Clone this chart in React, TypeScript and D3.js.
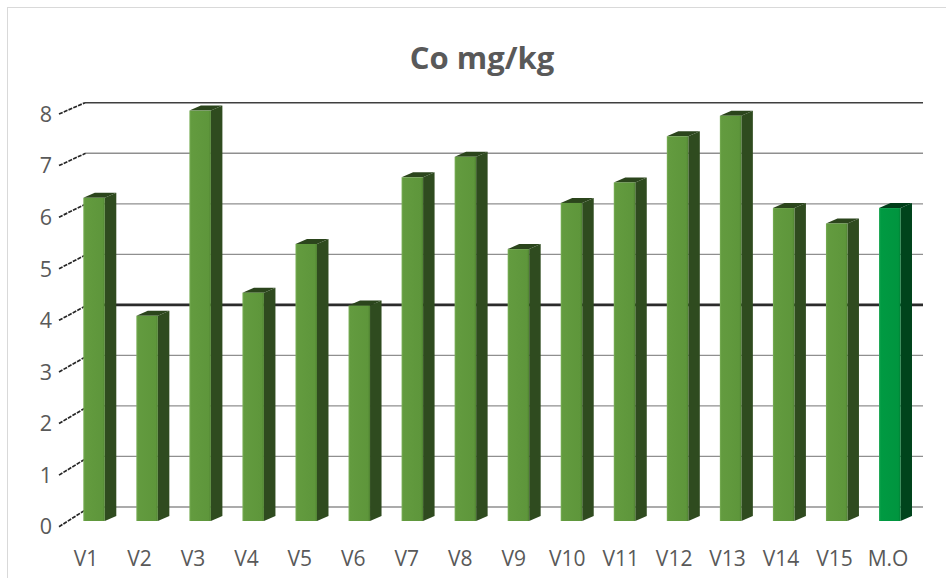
import React from 'react';
import * as d3 from 'd3';

const categories = ['V1','V2','V3','V4','V5','V6','V7','V8','V9','V10','V11','V12','V13','V14','V15','M.O'];
const values = [6.3, 4.0, 8.0, 4.45, 5.4, 4.2, 6.7, 7.1, 5.3, 6.2, 6.6, 7.5, 7.9, 6.1, 5.8, 6.1];
const yTicks = [0, 1, 2, 3, 4, 5, 6, 7, 8];
const title = 'Co mg/kg';
const highlightCategory = 'M.O';
const emphasizedTick = 4;

const W = 946;
const H = 578;

export default function App() {
  const xBar = d3.scalePoint<string>().domain(categories).range([83.3, 879]);
  const xLabel = d3.scalePoint<string>().domain(categories).range([86, 888]);
  const yBar = d3.scaleLinear().domain([0, 8]).range([521, 110.6]);
  const yAxis = d3.scaleLinear().domain([0, 8]).range([526.7, 114]);
  const yWall = d3.scaleLinear().domain([0, 8]).range([507, 102.7]);
  const wallLeft = d3.scaleLinear().domain([0, 8]).range([90, 85]);
  const wallRight = 923;
  const bw = 21.5;
  const dx = 11.5;
  const dy = 5;
  const textColor = '#595959';
  const font = "'Open Sans', 'Noto Sans', sans-serif";

  return (
    <svg width={W} height={H} style={{ position: 'absolute', left: 0, top: 0, background: '#fff' }}>
      <defs>
        <linearGradient id="gFront" x1="0" x2="1" y1="0" y2="0">
          <stop offset="0" stopColor="#7aaf57" />
          <stop offset="0.08" stopColor="#639b3f" />
          <stop offset="0.9" stopColor="#5e963b" />
          <stop offset="1" stopColor="#4f8231" />
        </linearGradient>
        <linearGradient id="gFrontHi" x1="0" x2="1" y1="0" y2="0">
          <stop offset="0" stopColor="#2fae60" />
          <stop offset="0.08" stopColor="#009a42" />
          <stop offset="0.9" stopColor="#00953f" />
          <stop offset="1" stopColor="#007f34" />
        </linearGradient>
      </defs>
      <rect x={7.5} y={7.5} width={W + 20} height={H + 20} fill="#fff" stroke="#d9d9d9" strokeWidth={1} />
      <text x={482} y={69} textAnchor="middle" fontFamily={font} fontWeight={700} fontSize={31} fill={textColor}>
        {title}
      </text>
      {yTicks.map((t) => {
        const isTop = t === yTicks[yTicks.length - 1];
        const isEm = t === emphasizedTick;
        return (
          <line
            key={'g' + t}
            x1={wallLeft(t)}
            x2={wallRight}
            y1={yWall(t)}
            y2={yWall(t)}
            stroke={isEm ? '#2b2b2b' : isTop ? '#3f3f3f' : '#8f8f8f'}
            strokeWidth={isEm ? 2.6 : isTop ? 1.6 : 1.3}
          />
        );
      })}
      {yTicks.map((t) => (
        <g key={'t' + t}>
          <line x1={59} y1={yAxis(t)} x2={wallLeft(t)} y2={yWall(t)} stroke="#262626" strokeWidth={1.7} strokeDasharray="4 1.2" />
          <text x={52} y={yAxis(t)} dy="0.36em" textAnchor="end" fontFamily={font} fontSize={21.5} fill={textColor}>
            {t}
          </text>
        </g>
      ))}
      {categories.map((c, i) => {
        const v = values[i];
        const x0 = xBar(c) as number;
        const yT = yBar(v);
        const y0 = yBar(0);
        const hi = c === highlightCategory;
        const side = hi ? '#00441c' : '#2f4b1f';
        const top = hi ? '#003d19' : '#2b451c';
        return (
          <g key={c}>
            <polygon
              points={`${x0 + bw},${yT} ${x0 + bw + dx},${yT - dy} ${x0 + bw + dx},${y0 - dy} ${x0 + bw},${y0}`}
              fill={side}
            />
            <polygon
              points={`${x0},${yT} ${x0 + dx},${yT - dy} ${x0 + bw + dx},${yT - dy} ${x0 + bw},${yT}`}
              fill={top}
            />
            <rect x={x0} y={yT} width={bw} height={y0 - yT} fill={hi ? 'url(#gFrontHi)' : 'url(#gFront)'} />
          </g>
        );
      })}
      {categories.map((c) => (
        <text key={'l' + c} x={xLabel(c) as number} y={566} textAnchor="middle" fontFamily={font} fontSize={21} fill={textColor}>
          {c}
        </text>
      ))}
    </svg>
  );
}
